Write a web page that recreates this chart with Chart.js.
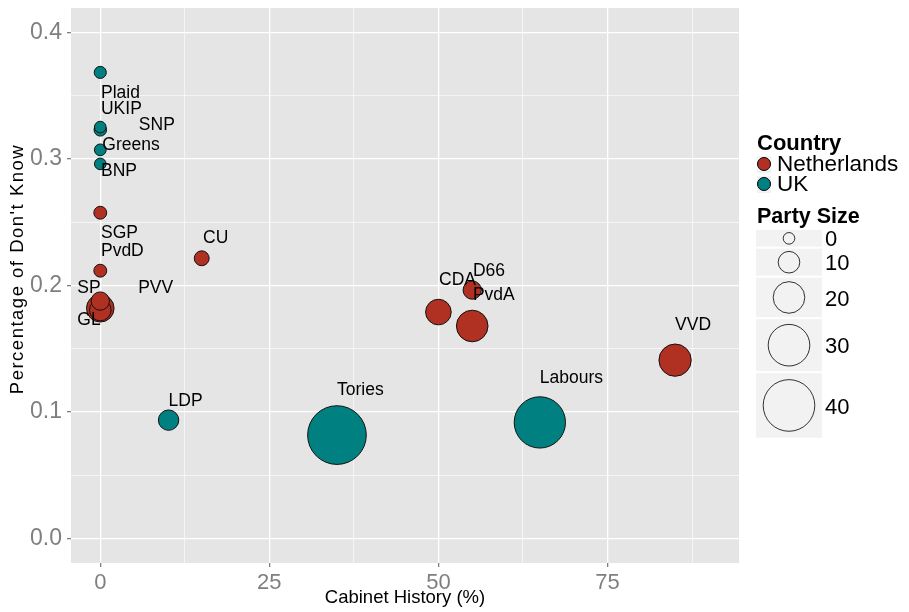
<!DOCTYPE html>
<html>
<head>
<meta charset="utf-8">
<script src="https://cdn.jsdelivr.net/npm/chart.js@4.4.1/dist/chart.umd.min.js"></script>
<style>
  html, body { margin: 0; padding: 0; background: #fff; }
  #wrap { width: 909px; height: 612px; }
</style>
</head>
<body>
<div id="wrap"><canvas id="chartDK" width="909" height="612"></canvas></div>
<script>
// Netherlands parties
const nlNames = ["VVD", "PvdA", "PVV", "CDA", "SP", "D66", "GL", "CU", "SGP", "PvdD"];
const nlCabinet = [85.0, 55.0, 0, 50.0, 0, 55.0, 0, 15.0, 0, 0];
const nlDontKnow = [0.141, 0.168, 0.182, 0.179, 0.1806, 0.1964, 0.1877, 0.2215, 0.2575, 0.2117];
const nlSize = [20.7, 20.0, 16.0, 14.0, 10.0, 6.7, 6.7, 3.3, 1.3, 1.3];
const nlLabelX = [85.0, 55.1, 5.6, 50.1, -3.4, 55.1, -3.4, 15.2, 0.1, 0.1];
const nlLabelY = [0.1688, 0.1925, 0.198, 0.2045, 0.198, 0.2115, 0.1725, 0.2375, 0.2415, 0.2270];

// UK parties
const ukNames = ["Tories", "Labours", "LDP", "SNP", "Plaid", "Greens", "UKIP", "BNP"];
const ukCabinet = [35.0, 65.0, 10.1, 0, 0, 0, 0, 0];
const ukDontKnow = [0.0818, 0.0918, 0.0936, 0.3230, 0.3684, 0.3072, 0.3252, 0.2961];
const ukSize = [47.1, 39.7, 8.8, 0.9, 0.5, 0.15, 0, 0];
const ukLabelX = [35.0, 65.0, 10.1, 5.7, 0.1, 0.3, 0.1, 0.1];
const ukLabelY = [0.1174, 0.127, 0.1087, 0.327, 0.3523, 0.3112, 0.3396, 0.2906];

const sizeBreaks = [0, 10, 20, 30, 40];
const countries = ["Netherlands", "UK"];
const countryColors = ["#B03022", "#008080"];

const FONT = "'Liberation Sans', Arial, Helvetica, sans-serif";
const sizeToRadius = s => 5.8 + 0.5 * s;

function buildPoints(xs, ys, sizes, names) {
  return xs.map((x, i) => ({ x: x, y: ys[i], r: sizeToRadius(sizes[i]), name: names[i] }));
}

const isMajor = (v, step) => Math.abs(v / step - Math.round(v / step)) < 1e-6;

// bubbles would otherwise push the panel down by the biggest radius
Chart.registry.getController("bubble").prototype.getMaxOverflow = function () { return 0; };

const panelBg = {
  id: "panelBg",
  beforeDraw(chart) {
    const { ctx, chartArea: a } = chart;
    ctx.save();
    ctx.fillStyle = "#E5E5E5";
    ctx.fillRect(a.left, a.top, a.right - a.left, a.bottom - a.top);
    ctx.restore();
  },
};

const partyLabels = {
  id: "partyLabels",
  afterDatasetsDraw(chart) {
    const { ctx, scales } = chart;
    ctx.save();
    ctx.font = "17.5px " + FONT;
    ctx.fillStyle = "#000";
    ctx.textAlign = "left";
    ctx.textBaseline = "middle";
    const draw = (names, lx, ly) => names.forEach((n, i) => {
      ctx.fillText(n, scales.x.getPixelForValue(lx[i]), scales.y.getPixelForValue(ly[i]));
    });
    draw(nlNames, nlLabelX, nlLabelY);
    draw(ukNames, ukLabelX, ukLabelY);
    ctx.restore();
  },
};

const sideStuff = {
  id: "sideStuff",
  afterDraw(chart) {
    const { ctx, chartArea: a } = chart;
    ctx.save();
    // axis titles
    ctx.fillStyle = "#000";
    ctx.font = "18.5px " + FONT;
    ctx.textAlign = "center";
    ctx.textBaseline = "middle";
    ctx.fillText("Cabinet History (%)", (a.left + a.right) / 2, 598);
    ctx.save();
    ctx.translate(18, 269);
    ctx.rotate(-Math.PI / 2);
    ctx.font = "18.5px " + FONT;
    ctx.letterSpacing = "1.5px";
    ctx.fillText("Percentage of Don't Know", 0, 0);
    ctx.restore();

    // colour legend
    const lx = 757;
    ctx.textAlign = "left";
    ctx.textBaseline = "alphabetic";
    ctx.font = "bold 22px " + FONT;
    ctx.fillText("Country", lx, 150);
    countries.forEach((c, i) => {
      const cy = 164 + i * 20;
      ctx.fillStyle = "#F2F2F2";
      ctx.fillRect(lx, cy - 8, 14, 17);
      ctx.beginPath();
      ctx.arc(lx + 7, cy, 6.5, 0, Math.PI * 2);
      ctx.fillStyle = countryColors[i];
      ctx.fill();
      ctx.lineWidth = 1;
      ctx.strokeStyle = "#000";
      ctx.stroke();
      ctx.fillStyle = "#000";
      ctx.font = "22.5px " + FONT;
      ctx.textBaseline = "middle";
      ctx.fillText(c, lx + 20, cy + 1);
      ctx.textBaseline = "alphabetic";
    });

    // size legend
    ctx.font = "bold 21.5px " + FONT;
    ctx.fillText("Party Size", lx, 223);
    let top = 230;
    sizeBreaks.forEach(s => {
      const r = sizeToRadius(s);
      const h = Math.max(16.7, 2.5 * r);
      ctx.fillStyle = "#F2F2F2";
      ctx.fillRect(756, top, 66, h);
      const cy = top + h / 2;
      ctx.beginPath();
      ctx.arc(789, cy, r, 0, Math.PI * 2);
      ctx.strokeStyle = "#000";
      ctx.lineWidth = 0.8;
      ctx.stroke();
      ctx.fillStyle = "#000";
      ctx.font = "22px " + FONT;
      ctx.textBaseline = "middle";
      ctx.fillText(String(s), 825, cy + 2);
      ctx.textBaseline = "alphabetic";
      top += h + 2;
    });
    ctx.restore();
  },
};

new Chart(document.querySelector("#chartDK"), {
  type: "bubble",
  data: {
    datasets: [
      {
        label: countries[0],
        data: buildPoints(nlCabinet, nlDontKnow, nlSize, nlNames),
        backgroundColor: countryColors[0],
        borderColor: "#111",
        borderWidth: 1,
      },
      {
        label: countries[1],
        data: buildPoints(ukCabinet, ukDontKnow, ukSize, ukNames),
        backgroundColor: countryColors[1],
        borderColor: "#111",
        borderWidth: 1,
      },
    ],
  },
  options: {
    responsive: false,
    animation: false,
    layout: { padding: { top: 8, right: 170, left: 0, bottom: 0 } },
    scales: {
      x: {
        type: "linear",
        min: -4.33,
        max: 94.45,
        afterFit: s => { s.height = 49; s.paddingLeft = 0; s.paddingRight = 0; },
        border: { display: false },
        grid: {
          color: "#FFFFFF",
          lineWidth: c => (isMajor(c.tick.value, 25) ? 1.3 : 0.6),
          tickColor: c => (isMajor(c.tick.value, 25) ? "#7F7F7F" : "rgba(0,0,0,0)"),
          tickLength: 4,
        },
        ticks: {
          stepSize: 12.5,
          includeBounds: false,
          autoSkip: false,
          maxRotation: 0,
          padding: 3,
          color: "#7F7F7F",
          font: { family: FONT, size: 22 },
          callback: v => (isMajor(v, 25) ? String(v) : ""),
        },
      },
      y: {
        type: "linear",
        min: -0.0193,
        max: 0.4193,
        afterFit: s => { s.width = 71; s.paddingTop = 0; s.paddingBottom = 0; },
        border: { display: false },
        grid: {
          color: "#FFFFFF",
          lineWidth: c => (isMajor(c.tick.value, 0.1) ? 1.3 : 0.6),
          tickColor: c => (isMajor(c.tick.value, 0.1) ? "#7F7F7F" : "rgba(0,0,0,0)"),
          tickLength: 4,
        },
        ticks: {
          stepSize: 0.05,
          includeBounds: false,
          autoSkip: false,
          padding: 5,
          color: "#7F7F7F",
          font: { family: FONT, size: 23 },
          callback: v => (isMajor(v, 0.1) ? v.toFixed(1) : ""),
        },
      },
    },
    plugins: {
      legend: { display: false },
      tooltip: { enabled: false },
    },
  },
  plugins: [panelBg, partyLabels, sideStuff],
});
</script>
</body>
</html>
